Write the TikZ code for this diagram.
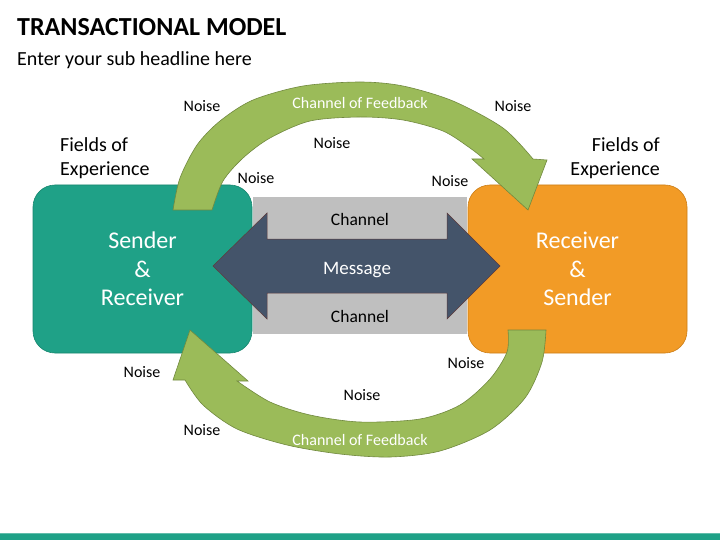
\documentclass[tikz,border=0pt]{standalone}
\usepackage{fontspec}
\setmainfont{Carlito}
\usepackage{xcolor}
\definecolor{seagreen}{HTML}{1FA187}
\definecolor{seaedge}{HTML}{17876F}
\definecolor{tangerine}{HTML}{F29B26}
\definecolor{tangeredge}{HTML}{CC7E17}
\definecolor{leafgreen}{HTML}{9BBB59}
\definecolor{leafedge}{HTML}{71893F}
\definecolor{slateblue}{HTML}{44546A}
\definecolor{slateedge}{HTML}{5E3B3B}
\definecolor{channelgray}{HTML}{BFBFBF}

\tikzset{
  noise/.style={font=\fontsize{16}{19}\selectfont, inner sep=0pt},
  party/.style={minimum width=219pt, minimum height=168pt, rounded corners=22pt, text=white, align=center, line width=0.6pt, inner sep=0pt, font=\fontsize{24}{28.5}\selectfont},
  fields/.style={inner sep=0pt, font=\fontsize{20}{24}\selectfont},
  feedback/.style={fill=leafgreen, draw=leafedge, line width=0.6pt, line join=miter},
  feedlabel/.style={text=white, inner sep=0pt, font=\fontsize{16}{19}\selectfont},
  chanlabel/.style={inner sep=0pt, font=\fontsize{17.5}{20}\selectfont}
}

\begin{document}
\begin{tikzpicture}[x=1pt, y=-1pt]
  \useasboundingbox (0,0) rectangle (720,540);
  \fill[white] (0,0) rectangle (720,540);

  % heading
  \node[anchor=base west, inner sep=0pt, font=\fontsize{26}{30}\selectfont\bfseries] (title) at (17,36) {TRANSACTIONAL MODEL};
  \node[anchor=base west, inner sep=0pt, font=\fontsize{20}{24}\selectfont] (subtitle) at (17,66) {Enter your sub headline here};

  % channel band and the two parties
  \fill[channelgray] (253,197) rectangle (467,334);
  \node[party, fill=seagreen, draw=seaedge] (sender) at (142.5,269) {Sender\\\&\\Receiver};
  \node[party, fill=tangerine, draw=tangeredge] (receiver) at (577.5,269) {Receiver\\\&\\Sender};

  % message arrow
  \draw[fill=slateblue, draw=slateedge, line width=0.5pt, line join=miter]
    (213,266) -- (267,213) -- (267,239) -- (447,239) -- (447,213) -- (500,266)
    -- (447,319) -- (447,293) -- (267,293) -- (267,319) -- cycle;
  \node[text=white, inner sep=0pt, font=\fontsize{19}{22}\selectfont] (message) at (357,270) {Message};
  \node[chanlabel] (chantop) at (360,219) {Channel};
  \node[chanlabel] (chanbot) at (360,316) {Channel};

  % feedback over the top
  \draw[feedback] plot[smooth] coordinates {(173,210) (180,178) (197,145) (220,121) (253,100) (303,86) (360,82) (403,86) (453,101) (503,128) (533,159)}
    -- (547,160) -- (528,210) -- (472,159)
    -- plot[smooth] coordinates {(484,159) (470,148) (443,131) (403,120) (360,117) (310,121) (270,138) (243,158) (223,181) (212,210)}
    -- cycle;
  \node[feedlabel] (feedtop) at (360,103) {Channel of Feedback};

  % feedback underneath
  \draw[feedback] plot[smooth] coordinates {(546,330) (542,362) (525,398) (490,430) (440,451) (390,457) (340,454) (287,445) (237,429) (203,405) (185,380)}
    -- (173,380) -- (190,330) -- (248,381)
    -- plot[smooth] coordinates {(237,381) (270,402) (310,415) (360,422) (420,419) (460,405) (490,379) (507,352) (508,330)}
    -- cycle;
  \node[feedlabel] (feedbot) at (360,440) {Channel of Feedback};

  % fields of experience
  \node[fields, anchor=west, align=left] (fieldl) at (60,158) {Fields of\\Experience};
  \node[fields, anchor=east, align=right] (fieldr) at (660,158) {Fields of\\Experience};

  % noise all round
  \node[noise] (noise1) at (202,106) {Noise};
  \node[noise] (noise2) at (513,106) {Noise};
  \node[noise] (noise3) at (332,143) {Noise};
  \node[noise] (noise4) at (256,178) {Noise};
  \node[noise] (noise5) at (450,181) {Noise};
  \node[noise] (noise6) at (466,363) {Noise};
  \node[noise] (noise7) at (142,372) {Noise};
  \node[noise] (noise8) at (362,395) {Noise};
  \node[noise] (noise9) at (202,430) {Noise};

  % footer strip
  \fill[seagreen!70!white] (0,532.5) rectangle (720,534);
  \fill[seagreen] (0,534) rectangle (720,540);
\end{tikzpicture}
\end{document}
